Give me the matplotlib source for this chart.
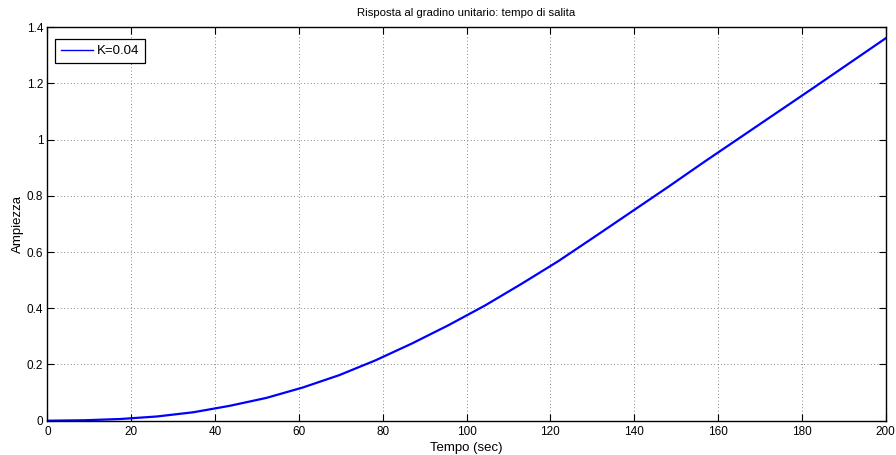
import matplotlib
matplotlib.use("Agg")
import matplotlib.pyplot as plt

t = [0, 8.7, 17.4, 26.1, 34.8, 43.5, 52.2, 60.9, 69.6, 78.3, 87.0, 95.7,
     104.4, 113.1, 121.8, 130.5, 139.2, 147.9, 156.6, 165.3, 174.0, 182.7,
     191.4, 200.0]
y = [0, 0.0015, 0.006, 0.015, 0.030, 0.053, 0.081, 0.118, 0.162, 0.215,
     0.275, 0.340, 0.410, 0.487, 0.567, 0.654, 0.742, 0.830, 0.920, 1.008,
     1.096, 1.184, 1.273, 1.361]
xticks = [0, 20, 40, 60, 80, 100, 120, 140, 160, 180, 200]
yticks = [0, 0.2, 0.4, 0.6, 0.8, 1, 1.2, 1.4]
ytick_labels = ["0", "0.2", "0.4", "0.6", "0.8", "1", "1.2", "1.4"]

plt.rcParams['font.family'] = ['Liberation Sans', 'DejaVu Sans']
plt.rcParams['font.size'] = 8

fig = plt.figure(figsize=(8.96, 4.55), dpi=100)
ax = fig.add_axes([0.053, 0.0754, 0.9355, 0.8646])
ax.plot(t, y, color='#0000ff', lw=1.6, label='K=0.04')
ax.set_xlim(0, 200)
ax.set_ylim(0, 1.4)
ax.set_xticks(xticks)
ax.set_yticks(yticks)
ax.set_yticklabels(ytick_labels)
ax.tick_params(direction='in', top=True, right=True, length=5, width=0.8,
               labelsize=8.5)
ax.tick_params(axis='x', pad=4)
ax.tick_params(axis='y', pad=3)
ax.grid(True, linestyle=(0, (1, 3)), color='#606060', linewidth=0.6)
for s in ax.spines.values():
    s.set_linewidth(1.0)
ax.set_title('Risposta al gradino unitario: tempo di salita', fontsize=8.2, pad=8)
ax.set_xlabel('Tempo (sec)', fontsize=9.5, labelpad=3)
ax.set_ylabel('Ampiezza', fontsize=9.5, labelpad=2)
leg = ax.legend(loc='upper left', bbox_to_anchor=(0.009, 0.970),
                fancybox=False, edgecolor='black', framealpha=1,
                fontsize=9.5, borderaxespad=0, handlelength=2.4,
                handletextpad=0.3, borderpad=0.45)
leg.get_frame().set_linewidth(0.9)
for h in leg.get_lines():
    h.set_linewidth(1.0)
fig.savefig('out.png', dpi=100)
